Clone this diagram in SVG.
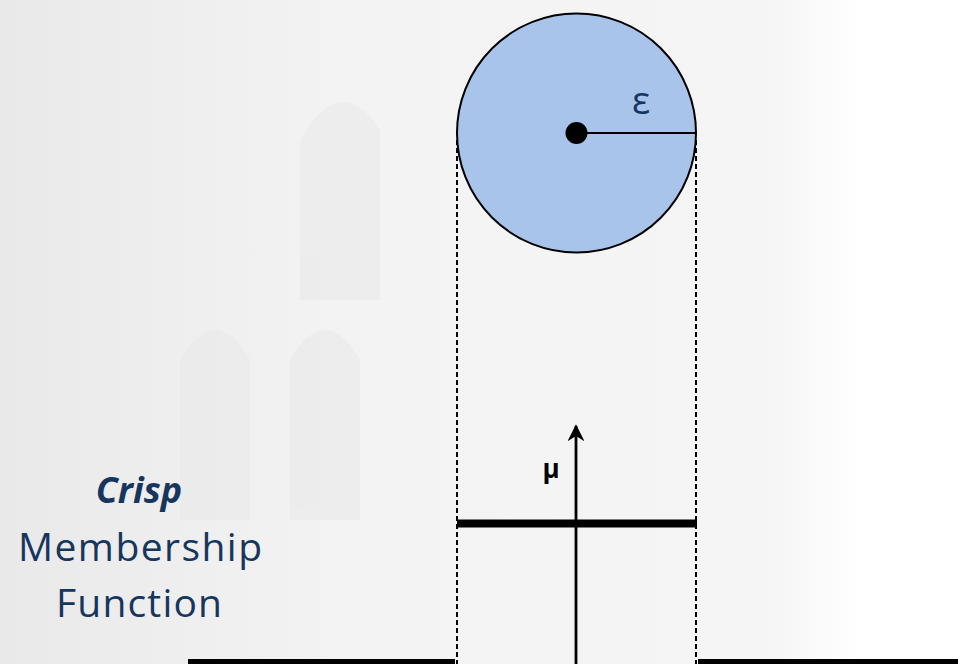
<svg xmlns="http://www.w3.org/2000/svg" width="958" height="664" viewBox="0 0 958 664">
<defs>
<linearGradient id="bg" x1="0" y1="0" x2="1" y2="0">
<stop offset="0" stop-color="#e9e9e9"/>
<stop offset="0.35" stop-color="#f3f3f3"/>
<stop offset="0.8" stop-color="#f5f5f5"/>
<stop offset="0.9" stop-color="#ffffff"/>
<stop offset="1" stop-color="#ffffff"/>
</linearGradient>
<marker id="arrow" viewBox="0 0 10 10" refX="9" refY="5" markerWidth="6" markerHeight="6" markerUnits="strokeWidth" orient="auto">
<path d="M0,0 L10,5 L0,10 L3,5 Z" fill="#000"/>
</marker>
<style>
.label{font-family:"Open Sans","Noto Sans",sans-serif;fill:#17365d;text-anchor:middle}
.dash{stroke:#000;stroke-width:2;stroke-dasharray:5 3;fill:none}
.solid{stroke:#000;fill:none}
</style>
</defs>
<rect x="0" y="0" width="958" height="664" fill="url(#bg)"/>
<g fill="#e8e8e8" opacity="0.5">
<path d="M300,140 Q340,70 380,130 L380,300 L300,300 Z"/>
<path d="M180,360 Q215,300 250,360 L250,520 L180,520 Z"/>
<path d="M290,360 Q325,300 360,360 L360,520 L290,520 Z"/>
</g>
<g id="connectors">
<line class="dash" x1="457" y1="140" x2="457" y2="664"/>
<line class="dash" x1="696" y1="140" x2="696" y2="664"/>
<line class="solid" x1="188" y1="661.5" x2="455" y2="661.5" stroke-width="5"/>
<line class="solid" x1="698" y1="661.5" x2="958" y2="661.5" stroke-width="5"/>
<line class="solid" x1="576" y1="664" x2="576" y2="426" stroke-width="2.8" marker-end="url(#arrow)"/>
<line class="solid" x1="457" y1="523.5" x2="697" y2="523.5" stroke-width="8"/>
</g>
<g id="circle-node">
<circle cx="576.5" cy="133" r="119.5" fill="#a9c4ea" stroke="#000" stroke-width="2"/>
<line class="solid" x1="580" y1="133" x2="696" y2="133" stroke-width="2"/>
<circle cx="576.5" cy="133" r="11" fill="#000"/>
<text class="label" x="641" y="114" font-size="38">ε</text>
</g>
<g id="mu-label">
<text x="551" y="478" font-family="Open Sans, sans-serif" font-weight="bold" font-size="26" fill="#000" text-anchor="middle">μ</text>
</g>
<g id="title">
<text class="label" x="139" y="503" font-size="36" font-weight="bold" font-style="italic">Crisp</text>
<text class="label" x="140" y="561" font-size="39" textLength="244">Membership</text>
<text class="label" x="139" y="617" font-size="39" textLength="166">Function</text>
</g>
</svg>
